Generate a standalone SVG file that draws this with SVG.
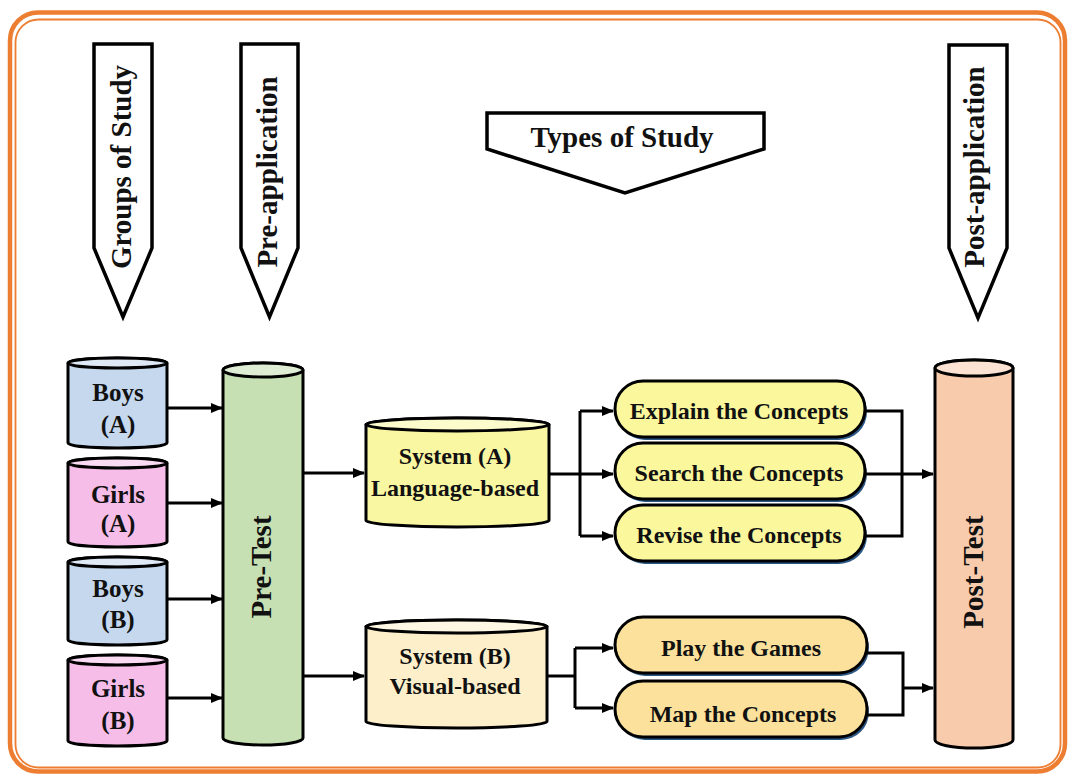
<svg xmlns="http://www.w3.org/2000/svg" width="1068" height="774" viewBox="0 0 1068 774">
  <defs>
    <marker id="arrow" viewBox="0 0 12 10" refX="11" refY="5" markerWidth="12" markerHeight="10" markerUnits="userSpaceOnUse" orient="auto">
      <path d="M0,0 L12,5 L0,10 Z" fill="#000"/>
    </marker>
    <style>
      text { font-family: 'Liberation Serif', 'Times New Roman', 'DejaVu Serif', serif; font-weight: 700; fill: #111; text-anchor: middle; }
      .banner { fill: #fff; stroke: #000; stroke-width: 3.5; stroke-linejoin: miter; }
      .cyl { stroke: #000; stroke-width: 3; stroke-linejoin: round; }
      .pill { stroke: #000; stroke-width: 3; }
      .shadow { fill: #2b5784; }
      .conn { fill: none; stroke: #000; stroke-width: 3; stroke-linejoin: miter; }
      .arr { fill: none; stroke: #000; stroke-width: 3; marker-end: url(#arrow); }
    </style>
  </defs>

  <rect width="1068" height="774" fill="#fff"/>

  <!-- double orange frame -->
  <rect x="10" y="12.5" width="1055" height="759" rx="28" fill="none" stroke="#ed7d31" stroke-width="4.5"/>
  <rect x="15.5" y="19.5" width="1045" height="748" rx="23" fill="none" stroke="#ed7d31" stroke-width="1.8"/>

  <g font-family="'Liberation Serif', 'Times New Roman', serif" font-weight="bold">
  <!-- header banners -->
  <g id="banner-groups">
    <polygon class="banner" points="94,44 152,44 152,248 123,317 94,248"/>
    <text font-size="29" transform="translate(131,167) rotate(-90)">Groups of Study</text>
  </g>
  <g id="banner-pre">
    <polygon class="banner" points="241,44 298,44 298,248 269.5,317 241,248"/>
    <text font-size="29" transform="translate(277,172) rotate(-90)">Pre-application</text>
  </g>
  <g id="banner-types">
    <polygon class="banner" points="487,113 764,113 764,149 625,193 487,149"/>
    <text font-size="29" x="622" y="147">Types of Study</text>
  </g>
  <g id="banner-post">
    <polygon class="banner" points="949,45 1007,45 1007,248 978,318 949,248"/>
    <text font-size="29" transform="translate(984,167) rotate(-90)">Post-application</text>
  </g>

  <!-- study groups -->
  <g id="boys-a">
    <path class="cyl" fill="#c5d8ee" d="M68,363 L68,443 A49.5,5 0 0 0 167,443 L167,363 A49.5,5 0 0 0 68,363 Z"/>
    <ellipse class="cyl" fill="#dfe9f6" cx="117.5" cy="363" rx="49.5" ry="5"/>
    <text font-size="25" x="118" y="401">Boys</text>
    <text font-size="25" x="118" y="433">(A)</text>
  </g>
  <g id="girls-a">
    <path class="cyl" fill="#f6bde9" d="M68,463 L68,542 A49.5,5 0 0 0 167,542 L167,463 A49.5,5 0 0 0 68,463 Z"/>
    <ellipse class="cyl" fill="#fbdaf4" cx="117.5" cy="463" rx="49.5" ry="5"/>
    <text font-size="25" x="118" y="503">Girls</text>
    <text font-size="25" x="118" y="532">(A)</text>
  </g>
  <g id="boys-b">
    <path class="cyl" fill="#c5d8ee" d="M68,562 L68,640 A49.5,5 0 0 0 167,640 L167,562 A49.5,5 0 0 0 68,562 Z"/>
    <ellipse class="cyl" fill="#dfe9f6" cx="117.5" cy="562" rx="49.5" ry="5"/>
    <text font-size="25" x="118" y="597">Boys</text>
    <text font-size="25" x="118" y="628">(B)</text>
  </g>
  <g id="girls-b">
    <path class="cyl" fill="#f6bde9" d="M68,660 L68,741 A49.5,5 0 0 0 167,741 L167,660 A49.5,5 0 0 0 68,660 Z"/>
    <ellipse class="cyl" fill="#fbdaf4" cx="117.5" cy="660" rx="49.5" ry="5"/>
    <text font-size="25" x="118" y="697">Girls</text>
    <text font-size="25" x="118" y="729">(B)</text>
  </g>

  <!-- pre-test -->
  <g id="pre-test">
    <path class="cyl" fill="#c6e0b4" d="M223,370 L223,738 A40,7 0 0 0 303,738 L303,370 A40,7 0 0 0 223,370 Z"/>
    <ellipse class="cyl" fill="#deedd3" cx="263" cy="370" rx="40" ry="7"/>
    <text font-size="29" transform="translate(271,567) rotate(-90)">Pre-Test</text>
  </g>

  <!-- study systems -->
  <g id="system-a">
    <path class="cyl" fill="#f9f7a2" d="M366,424.5 L366,520.5 A91.5,6.5 0 0 0 549,520.5 L549,424.5 A91.5,6.5 0 0 0 366,424.5 Z"/>
    <ellipse class="cyl" fill="#fcfbcc" cx="457.5" cy="424.5" rx="91.5" ry="6.5"/>
    <text font-size="24" x="455" y="464">System (A)</text>
    <text font-size="24" x="455" y="496">Language-based</text>
  </g>
  <g id="system-b">
    <path class="cyl" fill="#fdefca" d="M366,626.5 L366,721.5 A90.5,6.5 0 0 0 547,721.5 L547,626.5 A90.5,6.5 0 0 0 366,626.5 Z"/>
    <ellipse class="cyl" fill="#fef7e3" cx="456.5" cy="626.5" rx="90.5" ry="6.5"/>
    <text font-size="24" x="455" y="664">System (B)</text>
    <text font-size="24" x="455" y="694">Visual-based</text>
  </g>

  <!-- activities -->
  <g id="explain">
    <rect class="shadow" x="617" y="384" width="250" height="56" rx="28"/>
    <rect class="pill" fill="#faf79c" x="615" y="381" width="250" height="56" rx="28"/>
    <text font-size="24" x="739" y="419">Explain the Concepts</text>
  </g>
  <g id="search">
    <rect class="shadow" x="617" y="446" width="250" height="56" rx="28"/>
    <rect class="pill" fill="#faf79c" x="615" y="443" width="250" height="56" rx="28"/>
    <text font-size="24" x="739" y="481">Search the Concepts</text>
  </g>
  <g id="revise">
    <rect class="shadow" x="617" y="508" width="250" height="56" rx="28"/>
    <rect class="pill" fill="#faf79c" x="615" y="505" width="250" height="56" rx="28"/>
    <text font-size="24" x="739" y="543">Revise the Concepts</text>
  </g>
  <g id="play">
    <rect class="shadow" x="617" y="620" width="252" height="56" rx="28"/>
    <rect class="pill" fill="#fbe19c" x="615" y="617" width="252" height="56" rx="28"/>
    <text font-size="24" x="741" y="656">Play the Games</text>
  </g>
  <g id="map">
    <rect class="shadow" x="617" y="684" width="252" height="56" rx="28"/>
    <rect class="pill" fill="#fbe19c" x="615" y="681" width="252" height="56" rx="28"/>
    <text font-size="24" x="743" y="722">Map the Concepts</text>
  </g>

  <!-- post-test -->
  <g id="post-test">
    <path class="cyl" fill="#f8cbad" d="M935,368 L935,740 A39,8 0 0 0 1013,740 L1013,368 A39,8 0 0 0 935,368 Z"/>
    <ellipse class="cyl" fill="#fbe2d2" cx="974" cy="368" rx="39" ry="8"/>
    <text font-size="29" transform="translate(983,572) rotate(-90)">Post-Test</text>
  </g>
  </g>

  <!-- connectors -->
  <g id="connectors">
    <path class="arr" d="M167,408 H222"/>
    <path class="arr" d="M167,503 H222"/>
    <path class="arr" d="M167,599 H222"/>
    <path class="arr" d="M167,698 H222"/>

    <path class="arr" d="M303,473 H364"/>
    <path class="arr" d="M303,676 H364"/>

    <path class="conn" d="M549,474 H580"/>
    <path class="conn" d="M580,411 V536"/>
    <path class="arr" d="M580,411 H613"/>
    <path class="arr" d="M580,474 H613"/>
    <path class="arr" d="M580,536 H613"/>

    <path class="conn" d="M865,411 H902 V536 H865"/>
    <path class="arr" d="M865,474 H933"/>

    <path class="conn" d="M547,676 H575"/>
    <path class="conn" d="M575,648 V708"/>
    <path class="arr" d="M575,648 H613"/>
    <path class="arr" d="M575,708 H613"/>

    <path class="conn" d="M867,653 H903 V715 H867"/>
    <path class="arr" d="M903,688 H933"/>
  </g>
</svg>
